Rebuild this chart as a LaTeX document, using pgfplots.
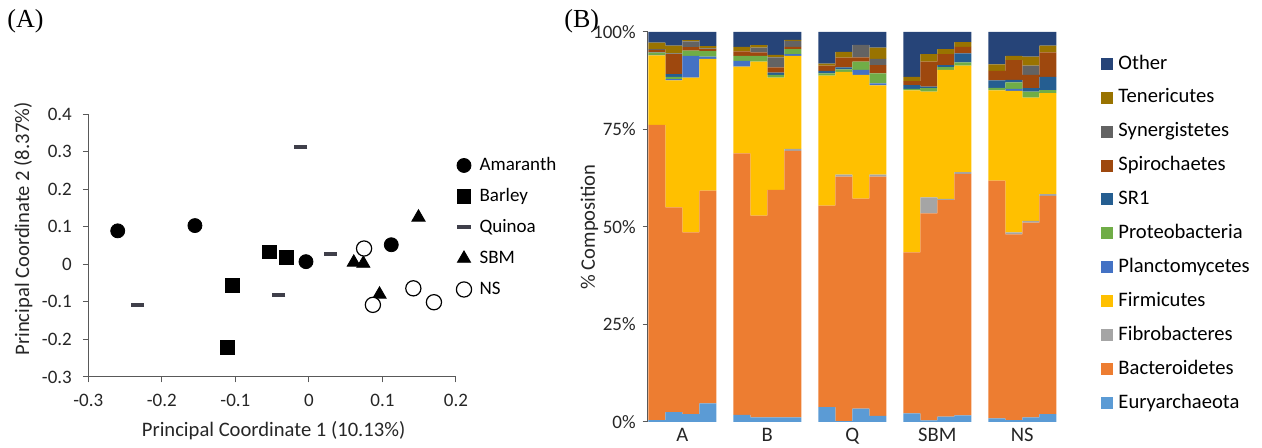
\documentclass[border=0pt]{standalone}
\usepackage{pgfplots}
\pgfplotsset{compat=1.18}
\usepackage{pgfplotstable}
\usepackage{fontspec}
\setmainfont{Carlito}
\newfontfamily\serifA{Liberation Serif}
\newcommand\fs{\fontsize{9.5}{11.4}\selectfont}
\newcommand\fl{\fontsize{10.3}{12.4}\selectfont}
\definecolor{cEury}{HTML}{5B9BD5}
\definecolor{cBact}{HTML}{ED7D31}
\definecolor{cFibro}{HTML}{A5A5A5}
\definecolor{cFirm}{HTML}{FFC000}
\definecolor{cPlanc}{HTML}{4472C4}
\definecolor{cProt}{HTML}{70AD47}
\definecolor{cSR}{HTML}{255E91}
\definecolor{cSpir}{HTML}{9E480E}
\definecolor{cSyn}{HTML}{636363}
\definecolor{cTen}{HTML}{997300}
\definecolor{cOth}{HTML}{264478}
\definecolor{axisgray}{HTML}{595959}
\definecolor{quin}{HTML}{3F3F4A}

\pgfplotstableread{
x Eu Ba Fi Fm Pl Pr SR Sp Sy Te Ot
0 0.5 75.7 0 17.8 0.1 0.6 0.1 0.6 0.2 1.7 2.7
1 2.5 52.5 0 32.6 0.3 0.6 0.7 5.1 0.2 2.0 3.5
2 2.0 46.6 0 39.7 5.6 1.3 0 0.9 1.5 0.3 2.1
3 4.8 54.5 0 33.8 0.6 1.4 0 0.5 0.2 0.6 3.6
5 1.8 67.1 0 22.2 1.5 1.3 0 1.1 0 1.2 3.8
6 1.2 51.7 0 39.5 0 1.5 0 0.9 1.2 0.6 3.4
7 1.2 58.3 0 28.8 0 0.7 0.6 1.3 2.6 0.6 5.9
8 1.2 68.3 0.5 23.9 0.4 1.3 0 0.6 1.5 0.3 2.0
10 3.8 51.7 0 33.3 0 0.6 0.6 1.4 0 0.5 8.1
11 0.2 62.7 0.5 26.4 0 0.6 0.5 2.5 0 1.5 5.1
12 3.4 53.9 0 31.7 1.3 2.1 0 1.1 3.2 0 3.3
13 1.6 61.3 0.5 22.9 0.5 2.6 0 2.1 1.6 2.9 4.0
15 2.2 41.3 0 41.5 0 0.4 1.0 1.0 0 1.1 11.5
16 0.4 53.1 4.1 27.1 0 0.9 0.4 6.4 0 1.9 5.7
17 1.4 55.5 0.3 33.1 0 0.7 0.5 2.8 0 1.3 4.4
18 1.7 61.9 0.5 27.3 0 0.8 2.3 1.7 0 1.2 2.6
20 0.9 61.0 0 23.1 0 0.7 1.9 2.4 0 1.7 8.3
21 0.5 47.6 0.5 36.3 0.5 1.7 0.6 5.1 0 1.1 6.1
22 1.2 49.9 0.5 31.6 0 1.5 0.9 3.4 2.4 2.3 6.3
23 2.0 56.0 0.4 25.9 0 0.8 3.4 6.3 0 1.7 3.5
}\comptable

\pgfplotstableread{
x y
-0.260 0.089
-0.155 0.103
-0.004 0.007
0.112 0.052
}\amaranth
\pgfplotstableread{
x y
-0.054 0.033
-0.031 0.019
-0.104 -0.057
-0.111 -0.221
}\barley
\pgfplotstableread{
x y
-0.011 0.311
-0.233 -0.108
-0.041 -0.081
0.029 0.027
}\quinoa
\pgfplotstableread{
x y
0.149 0.125
0.061 0.005
0.074 0.002
0.096 -0.080
}\sbm
\pgfplotstableread{
x y
0.075 0.042
0.087 -0.108
0.142 -0.064
0.170 -0.101
}\ns

\begin{document}
\begin{tikzpicture}
\path[use as bounding box] (0,0) rectangle (631pt,224pt);
\node[anchor=north west, inner sep=0pt, font=\serifA\fontsize{13}{15}\selectfont] at (3.5pt,219.5pt) {(A)};
\node[anchor=north west, inner sep=0pt, font=\serifA\fontsize{13}{15}\selectfont] at (282pt,219.5pt) {(B)};

\begin{axis}[
  at={(44.15pt,35.5pt)}, anchor=south west,
  scale only axis, width=183.85pt, height=131.5pt,
  xmin=-0.3, xmax=0.2, ymin=-0.3, ymax=0.4,
  clip=false,
  axis lines*=left,
  axis line style={axisgray, line width=0.5pt},
  xtick={-0.3,-0.2,-0.1,0,0.1,0.2},
  xticklabels={-0.3,-0.2,-0.1,0,0.1,0.2},
  ytick={-0.3,-0.2,-0.1,0,0.1,0.2,0.3,0.4},
  yticklabels={-0.3,-0.2,-0.1,0,0.1,0.2,0.3,0.4},
  tick align=outside, major tick length=2.7pt,
  tick style={axisgray, line width=0.5pt},
  tick label style={font=\fs, text=black!85},
  xticklabel style={yshift=-2.5pt},
  yticklabel style={xshift=-2pt},
  xlabel={Principal Coordinate 1 (10.13\%)},
  ylabel={Principal Coordinate 2 (8.37\%)},
  label style={font=\fl, text=black!85},
  xlabel style={at={(axis description cs:0.504,-0.205)}, anchor=center},
  ylabel style={at={(axis description cs:-0.177,0.563)}, anchor=center},
  legend cell align=left,
  legend style={at={(axis description cs:1.0,0.84)}, anchor=north west,
    draw=none, fill=none, font=\fs, inner sep=0pt, row sep=6.5pt,
    nodes={inner sep=0pt, text height=7pt, text depth=2pt},
    /tikz/every odd column/.append style={column sep=4pt}},
  legend image code/.code={\draw[#1,mark repeat=2,mark phase=2] plot coordinates {(0pt,0pt)(3.5pt,0pt)(7pt,0pt)};},
]
\addplot[only marks, mark=*, mark size=3.5pt, black] table {\amaranth};
\addlegendentry{Amaranth}
\addplot[only marks, mark=square*, mark size=3.4pt, black] table {\barley};
\addlegendentry{Barley}
\addplot[only marks, mark=-, mark size=3.3pt, quin, mark options={line width=2pt}] table {\quinoa};
\addlegendentry{Quinoa}
\addplot[only marks, mark=triangle*, mark size=3.8pt, black] table {\sbm};
\addlegendentry{SBM}
\addplot[only marks, mark=*, mark size=3.8pt, black, mark options={fill=white, line width=0.6pt}] table {\ns};
\addlegendentry{NS}
\end{axis}

\begin{axis}[
  at={(323.75pt,13pt)}, anchor=south west,
  scale only axis, width=204.4pt, height=195pt,
  xmin=-0.547, xmax=23.5, ymin=0, ymax=100,
  ybar stacked, bar width=1,
  axis lines*=left,
  x axis line style={draw=none},
  y axis line style={axisgray, line width=0.5pt},
  xtick={1.5,6.5,11.5,16.5,21.5},
  xticklabels={A,B,Q,SBM,NS},
  xtick style={draw=none},
  ytick={0,25,50,75,100},
  yticklabels={0\%,25\%,50\%,75\%,100\%},
  tick align=outside, major tick length=2.4pt,
  ytick style={axisgray, line width=0.5pt},
  tick label style={font=\fs, text=black!85},
  xticklabel style={font=\fl, anchor=center, yshift=-4.25pt, text height=6.6pt, text depth=0pt},
  ylabel={\% Composition},
  ylabel style={font=\fl, text=black!85, at={(axis description cs:-0.142,0.5)}, anchor=center},
  reverse legend,
  legend cell align=left,
  legend style={at={(axis description cs:1.108,0.943)}, anchor=north west,
    draw=none, fill=none, font=\fl, inner sep=0pt, row sep=7.75pt,
    nodes={inner sep=0pt, text height=7.2pt, text depth=2pt},
    /tikz/every odd column/.append style={column sep=2.8pt}},
  legend image code/.code={\path[#1,draw=none] (0pt,-3pt) rectangle (6pt,3pt);},
]
\addplot[fill=cEury, draw=none] table[x=x,y=Eu] {\comptable};
\addlegendentry{Euryarchaeota}
\addplot[fill=cBact, draw=none] table[x=x,y=Ba] {\comptable};
\addlegendentry{Bacteroidetes}
\addplot[fill=cFibro, draw=none] table[x=x,y=Fi] {\comptable};
\addlegendentry{Fibrobacteres}
\addplot[fill=cFirm, draw=none] table[x=x,y=Fm] {\comptable};
\addlegendentry{Firmicutes}
\addplot[fill=cPlanc, draw=none] table[x=x,y=Pl] {\comptable};
\addlegendentry{Planctomycetes}
\addplot[fill=cProt, draw=none] table[x=x,y=Pr] {\comptable};
\addlegendentry{Proteobacteria}
\addplot[fill=cSR, draw=none] table[x=x,y=SR] {\comptable};
\addlegendentry{SR1}
\addplot[fill=cSpir, draw=none] table[x=x,y=Sp] {\comptable};
\addlegendentry{Spirochaetes}
\addplot[fill=cSyn, draw=none] table[x=x,y=Sy] {\comptable};
\addlegendentry{Synergistetes}
\addplot[fill=cTen, draw=none] table[x=x,y=Te] {\comptable};
\addlegendentry{Tenericutes}
\addplot[fill=cOth, draw=none] table[x=x,y=Ot] {\comptable};
\addlegendentry{Other}
\end{axis}
\end{tikzpicture}
\end{document}
